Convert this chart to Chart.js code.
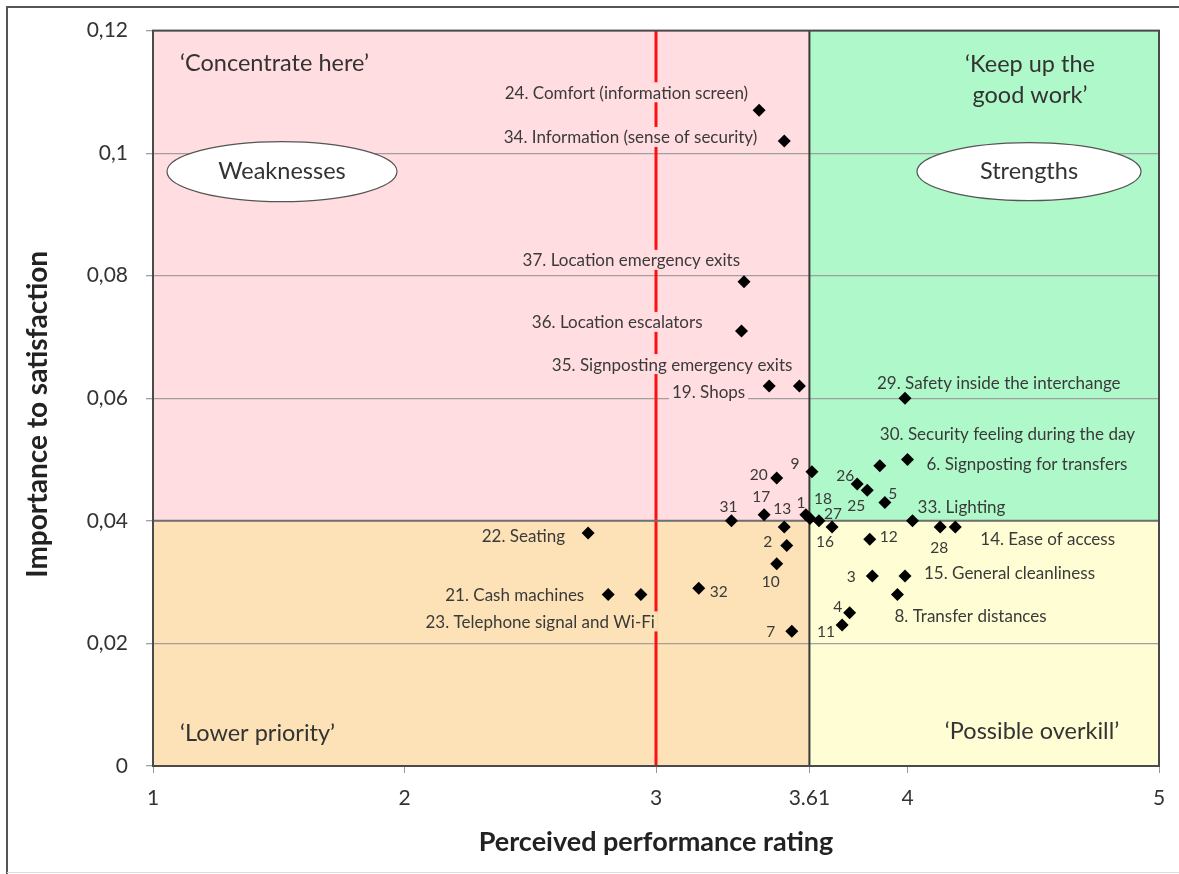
<!DOCTYPE html>
<html><head><meta charset="utf-8">
<script src="https://cdn.jsdelivr.net/npm/chart.js@4/dist/chart.umd.min.js"></script>
<style>html,body{margin:0;padding:0;background:#fff;}canvas{display:block}</style>
</head><body>
<canvas id="c" width="1179" height="874"></canvas>
<script>
// ---- data ----
const ids = [24,34,37,36,19,35,29,30,6,26,25,5,9,20,17,1,18,16,27,31,13,2,10,32,7,12,33,28,14,3,15,8,4,11,22,21,23];
const names = ['Comfort (information screen)','Information (sense of security)','Location emergency exits','Location escalators','Shops','Signposting emergency exits','Safety inside the interchange','Security feeling during the day','Signposting for transfers','','','','','','','','','','','','','','','','','','Lighting','','Ease of access','','General cleanliness','Transfer distances','','','Seating','Cash machines','Telephone signal and Wi-Fi'];
const performance = [3.41,3.51,3.35,3.34,3.45,3.57,3.99,3.89,4.00,3.80,3.84,3.91,3.62,3.48,3.43,3.596,3.612,3.648,3.70,3.30,3.51,3.52,3.48,3.17,3.54,3.85,4.02,4.13,4.19,3.86,3.99,3.96,3.77,3.74,2.73,2.81,2.94];
const importance = [0.107,0.102,0.079,0.071,0.062,0.062,0.060,0.049,0.050,0.046,0.045,0.043,0.048,0.047,0.041,0.041,0.0404,0.040,0.039,0.040,0.039,0.036,0.033,0.029,0.022,0.037,0.040,0.039,0.039,0.031,0.031,0.028,0.025,0.023,0.038,0.028,0.028];
const xTicks = [1,2,3,3.61,4,5];
const xTickLabels = ['1','2','3','3.61','4','5'];
const yTicks = [0,0.02,0.04,0.06,0.08,0.1,0.12];
const yTickLabels = ['0','0,02','0,04','0,06','0,08','0,1','0,12'];
const meanPerformance = 3.61;
const meanImportance = 0.04;
const targetLine = 3;
const xTitle = 'Perceived performance rating';
const yTitle = 'Importance to satisfaction';
const quadrantTitles = ['\u2018Concentrate here\u2019','\u2018Keep up the|good work\u2019','\u2018Lower priority\u2019','\u2018Possible overkill\u2019'];
const ovalTexts = ['Weaknesses','Strengths'];

// ---- label layout (pixel offsets from point) ----
const labelLayout = {
 24:[-11,-18,'right'],34:[-27,-4,'right'],37:[-4,-22,'right'],36:[-39,-9,'right'],35:[-7,-22,'right'],19:[-24,5,'right'],
 29:[-28,-16,'left'],30:[0,-32,'left'],6:[19,4,'left'],33:[5,-14,'left'],14:[25,12,'left'],15:[19,-4,'left'],8:[-3,21,'left'],
 22:[-23,2,'right'],21:[-24,0,'right'],23:[14,27,'right'],
 26:[-12,-9,'center'],25:[-11,15,'center'],5:[8,-9,'center'],9:[-17,-9,'center'],20:[-18,-4,'center'],17:[-3,-19,'center'],
 13:[-2,-19,'center'],1:[-5,-13,'center'],18:[13,-20,'center'],27:[1,-14,'center'],16:[6,20,'center'],31:[-3,-15,'center'],
 2:[-19,-4,'center'],10:[-6,17,'center'],32:[20,3,'center'],7:[-21,0,'center'],12:[19,-3,'center'],28:[-1,20,'center'],
 3:[-21,0,'center'],4:[-12,-7,'center'],11:[-16,6,'center']
};
const FONT = 'Lato, "Open Sans", sans-serif';
const COL = {pink:'#FFDDE0', green:'#AFF8C9', orange:'#FCE2B6', yellow:'#FEFDD3'};

const quadPlugin = {
  id:'quad',
  beforeDraw(chart){
    const {ctx, chartArea:a, scales:{x,y}} = chart;
    const mx = x.getPixelForValue(meanPerformance), my = y.getPixelForValue(meanImportance);
    ctx.save();
    ctx.fillStyle = COL.pink; ctx.fillRect(a.left, a.top, mx-a.left, my-a.top);
    ctx.fillStyle = COL.green; ctx.fillRect(mx, a.top, a.right-mx, my-a.top);
    ctx.fillStyle = COL.orange; ctx.fillRect(a.left, my, mx-a.left, a.bottom-my);
    ctx.fillStyle = COL.yellow; ctx.fillRect(mx, my, a.right-mx, a.bottom-my);
    // y axis title
    ctx.translate(38, (a.top+a.bottom)/2 + 16);
    ctx.rotate(-Math.PI/2);
    ctx.font = 'bold 28px ' + FONT; ctx.fillStyle = '#222';
    ctx.textAlign = 'center'; ctx.textBaseline = 'middle';
    ctx.fillText(yTitle, 0, 0);
    ctx.restore();
  },
  beforeDatasetsDraw(chart){
    const {ctx, chartArea:a, scales:{x,y}} = chart;
    const mx = x.getPixelForValue(meanPerformance), my = y.getPixelForValue(meanImportance);
    ctx.save();
    const rx = Math.round(x.getPixelForValue(targetLine));
    ctx.strokeStyle = '#FF1010'; ctx.lineWidth = 3;
    ctx.beginPath(); ctx.moveTo(rx, a.top); ctx.lineTo(rx, a.bottom); ctx.stroke();
    ctx.strokeStyle = '#707070'; ctx.lineWidth = 2;
    ctx.beginPath(); ctx.moveTo(a.left, my); ctx.lineTo(a.right, my); ctx.stroke();
    ctx.strokeStyle = '#3a3a3a'; ctx.lineWidth = 2;
    ctx.beginPath(); ctx.moveTo(mx, a.top); ctx.lineTo(mx, a.bottom); ctx.stroke();
    ctx.fillStyle = '#333'; ctx.font = '23.5px ' + FONT; ctx.textBaseline = 'middle';
    ctx.textAlign = 'left';
    ctx.fillText(quadrantTitles[0], a.left+27, a.top+33);
    ctx.fillText(quadrantTitles[2], a.left+27, a.bottom-33);
    ctx.textAlign = 'center';
    const kk = quadrantTitles[1].split('|');
    ctx.fillText(kk[0], a.right-129, a.top+34);
    ctx.fillText(kk[1], a.right-129, a.top+65);
    ctx.fillText(quadrantTitles[3], a.right-127, a.bottom-35);
    const ov = [[a.left+129, a.top+141, 115, 30, ovalTexts[0]],[a.right-130, a.top+141, 112, 29, ovalTexts[1]]];
    ov.forEach(([cx,cy,rxx,ryy,t])=>{
      ctx.beginPath(); ctx.ellipse(cx,cy,rxx,ryy,0,0,Math.PI*2);
      ctx.fillStyle='#fff'; ctx.fill(); ctx.strokeStyle='#555'; ctx.lineWidth=1.2; ctx.stroke();
      ctx.fillStyle='#333'; ctx.textAlign='center'; ctx.fillText(t, cx, cy);
    });
    const meta = chart.getDatasetMeta(0);
    ids.forEach((id,i)=>{
      const el = meta.data[i];
      const L = labelLayout[id];
      const txt = names[i] ? id + '. ' + names[i] : String(id);
      ctx.font = (names[i] ? '17px ' : '15.5px ') + FONT;
      const tx = el.x + L[0], ty = el.y + L[1];
      const w = ctx.measureText(txt).width;
      let left = L[2]==='left' ? tx : L[2]==='right' ? tx - w : tx - w/2;
      if (names[i]) {
        const bg = ty < my ? (left+w/2 < mx ? COL.pink : COL.green) : (left+w/2 < mx ? COL.orange : COL.yellow);
        ctx.fillStyle = bg;
        ctx.fillRect(left-3, ty-10, w+6, 20);
      }
      ctx.fillStyle = '#3a3a3a'; ctx.textAlign='left';
      ctx.fillText(txt, left, ty+1);
    });
    ctx.restore();
  },
  afterDraw(chart){
    const {ctx, chartArea:a} = chart;
    ctx.save();
    ctx.strokeStyle = '#4a4a4a'; ctx.lineWidth = 2;
    ctx.strokeRect(a.left, a.top, a.right-a.left, a.bottom-a.top);
    ctx.strokeStyle = '#555'; ctx.lineWidth = 2;
    ctx.beginPath(); ctx.moveTo(1179, 7); ctx.lineTo(7, 7); ctx.lineTo(7, 874); ctx.stroke();
    ctx.strokeStyle = '#ddd'; ctx.lineWidth = 1;
    ctx.beginPath(); ctx.moveTo(7, 872.5); ctx.lineTo(1179, 872.5); ctx.stroke();
    ctx.restore();
  }
};

new Chart(document.getElementById('c'), {
  type:'scatter',
  data:{ datasets:[{
    data: performance.map((v,i)=>({x:v, y:importance[i]})),
    pointStyle:'rectRot', pointRadius:6.5, pointHoverRadius:6.5,
    backgroundColor:'#000', borderColor:'#000', borderWidth:0
  }]},
  options:{
    responsive:false, animation:false, devicePixelRatio:1,
    layout:{padding:{left:0, right:20, top:29, bottom:0}},
    plugins:{legend:{display:false}, tooltip:{enabled:false}},
    scales:{
      x:{
        type:'linear', min:1, max:5,
        afterBuildTicks(s){ s.ticks = xTicks.map(v=>({value:v})); },
        afterFit(s){ s.height = 108; },
        ticks:{ callback:(v)=>xTickLabels[xTicks.indexOf(v)] ?? '', font:{family:FONT, size:21}, color:'#333', padding:13, autoSkip:false, maxRotation:0 },
        grid:{ drawOnChartArea:false, drawTicks:true, tickLength:7, color:'#999' },
        border:{ display:false },
        title:{ display:true, text:xTitle, font:{family:FONT, size:27, weight:'bold'}, color:'#222', padding:{top:0,bottom:16} }
      },
      y:{
        type:'linear', min:0, max:0.12,
        afterBuildTicks(s){ s.ticks = yTicks.map(v=>({value:v})); },
        afterFit(s){ s.width = 153; },
        ticks:{ callback:(v)=>{ const k = yTicks.findIndex(t=>Math.abs(t-v)<1e-9); return k>=0 ? yTickLabels[k] : ''; }, font:{family:FONT, size:21}, color:'#333', padding:18 },
        grid:{ drawTicks:true, tickLength:7, color:'#a0a0a0', lineWidth:1.3 },
        border:{ display:false },
        title:{ display:false }
      }
    }
  },
  plugins:[quadPlugin]
});
</script>
</body></html>
